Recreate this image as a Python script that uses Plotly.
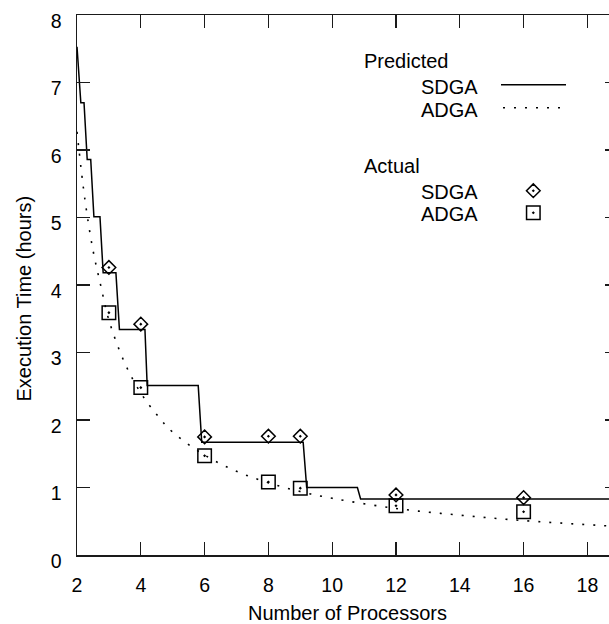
import plotly.graph_objects as go

# ---------------- data ----------------
pred_sdga_x = [2.00, 2.12, 2.22, 2.32, 2.43, 2.53, 2.72, 2.82, 3.22, 3.33, 4.13, 4.20,
               5.80, 5.91, 9.09, 9.20, 10.79, 10.89, 18.68]
pred_sdga_y = [7.53, 6.70, 6.70, 5.86, 5.86, 5.01, 5.01, 4.18, 4.18, 3.34, 3.34, 2.51,
               2.51, 1.67, 1.67, 1.00, 1.00, 0.83, 0.83]

pred_adga_x = [2.0, 2.25, 2.5, 2.75, 3.0, 3.5, 4.0, 4.5, 5.0, 6.0, 7.0, 8.0, 9.0, 10.0,
               12.0, 14.0, 16.0, 18.68]
pred_adga_y = [6.27, 5.26, 4.52, 3.98, 3.48, 2.84, 2.40, 2.08, 1.82, 1.48, 1.24, 1.07,
               0.94, 0.84, 0.69, 0.59, 0.51, 0.43]

actual_x = [3, 4, 6, 8, 9, 12, 16]
actual_sdga_y = [4.26, 3.42, 1.75, 1.76, 1.76, 0.89, 0.85]
actual_adga_y = [3.59, 2.48, 1.47, 1.08, 0.99, 0.73, 0.64]

x_ticks = [2, 4, 6, 8, 10, 12, 14, 16, 18]
y_ticks = [0, 1, 2, 3, 4, 5, 6, 7, 8]

# ---------------- layout geometry (pixels) ----------------
W, H = 609, 624
L, R, T, B = 77, 0, 15, 69
PW, PH = W - L - R, H - T - B


def px(xp):
    return (xp - L) / PW


def py(yp):
    return (H - B - yp) / PH


FONT = "Liberation Sans, Arial, Helvetica, sans-serif"
DOT = "2px,9px"

fig = go.Figure()

fig.add_trace(go.Scatter(x=pred_sdga_x, y=pred_sdga_y, mode="lines",
                         line=dict(color="black", width=1.5), showlegend=False,
                         hoverinfo="skip"))
fig.add_trace(go.Scatter(x=pred_adga_x, y=pred_adga_y, mode="lines",
                         line=dict(color="black", width=1.6, dash=DOT, shape="spline"),
                         showlegend=False, hoverinfo="skip"))
fig.add_trace(go.Scatter(x=actual_x, y=actual_sdga_y, mode="markers",
                         marker=dict(symbol="diamond-open-dot", size=10.5, color="black",
                                     line=dict(width=1.5, color="black")),
                         showlegend=False))
fig.add_trace(go.Scatter(x=actual_x, y=actual_adga_y, mode="markers",
                         marker=dict(symbol="square-open-dot", size=13.5, color="black",
                                     line=dict(width=1.5, color="black")),
                         showlegend=False))

# legend keys for markers (on a hidden overlay axis in [0,1] plot fractions)
fig.add_trace(go.Scatter(x=[px(533.3)], y=[py(190.7)], xaxis="x2", yaxis="y2",
                         mode="markers", showlegend=False, hoverinfo="skip",
                         marker=dict(symbol="diamond-open-dot", size=10.5, color="black",
                                     line=dict(width=1.5, color="black"))))
fig.add_trace(go.Scatter(x=[px(533.3)], y=[py(212.7)], xaxis="x2", yaxis="y2",
                         mode="markers", showlegend=False, hoverinfo="skip",
                         marker=dict(symbol="square-open-dot", size=13.5, color="black",
                                     line=dict(width=1.5, color="black"))))
# placeholder trace so the right-side tick stubs axis is drawn
fig.add_trace(go.Scatter(x=[None], y=[None], yaxis="y3", showlegend=False,
                         hoverinfo="skip"))

# legend keys for lines
fig.add_shape(type="line", xref="paper", yref="paper", x0=px(501), x1=px(566),
              y0=py(84.7), y1=py(84.7), line=dict(color="black", width=1.5))
fig.add_shape(type="line", xref="paper", yref="paper", x0=px(503), x1=px(561),
              y0=py(107.7), y1=py(107.7), line=dict(color="black", width=1.6, dash=DOT))

ann = [
    ("Predicted", 362, 60.7, "left"),
    ("SDGA", 479.5, 87, "right"),
    ("ADGA", 479.5, 109.5, "right"),
    ("Actual", 362, 166, "left"),
    ("SDGA", 479.5, 192, "right"),
    ("ADGA", 479.5, 213.8, "right"),
]
for text, xp, yp, anchor in ann:
    fig.add_annotation(text=text, xref="paper", yref="paper", x=px(xp), y=py(yp),
                       xanchor=anchor, yanchor="middle", showarrow=False,
                       font=dict(family=FONT, size=20, color="black"))

# axis titles
fig.add_annotation(text="Number of Processors", xref="paper", yref="paper",
                   x=px(347.5), y=py(613), xanchor="center", yanchor="middle",
                   showarrow=False, font=dict(family=FONT, size=20, color="black"))
fig.add_annotation(text="Execution Time (hours)", xref="paper", yref="paper",
                   x=px(23), y=py(298.5), xanchor="center", yanchor="middle",
                   textangle=-90, showarrow=False,
                   font=dict(family=FONT, size=20, color="black"))

axis_line = dict(showline=True, linecolor="#1a1a1a", linewidth=1.5, showgrid=False,
                 zeroline=False, ticks="inside", ticklen=13, tickwidth=1.3,
                 tickcolor="#1a1a1a",
                 tickfont=dict(family=FONT, size=19.5, color="black"))

fig.update_layout(
    width=W, height=H,
    margin=dict(l=L, r=R, t=T, b=B, pad=0),
    plot_bgcolor="white", paper_bgcolor="white",
    showlegend=False,
    hovermode=False,
    xaxis=dict(range=[2, 2 + (W - L) / 31.9], tickvals=x_ticks, mirror="ticks",
               ticklabelstandoff=12, **axis_line),
    yaxis=dict(range=[0, 8], tickvals=y_ticks, mirror=False, ticklabelstandoff=10,
               ticklabelshift=6, **axis_line),
    xaxis2=dict(overlaying="x", range=[0, 1], visible=False),
    yaxis2=dict(overlaying="y", range=[0, 1], visible=False),
    yaxis3=dict(overlaying="y", side="right", range=[0, 8], tickvals=y_ticks,
                ticks="inside", ticklen=4, tickwidth=1.3, tickcolor="#1a1a1a",
                showticklabels=False, showline=False, showgrid=False, zeroline=False),
)

fig.write_html("out.html",
               config={"displayModeBar": False, "staticPlot": True},
               post_script="document.body.style.margin='0';"
                           "document.body.style.overflow='hidden';")
